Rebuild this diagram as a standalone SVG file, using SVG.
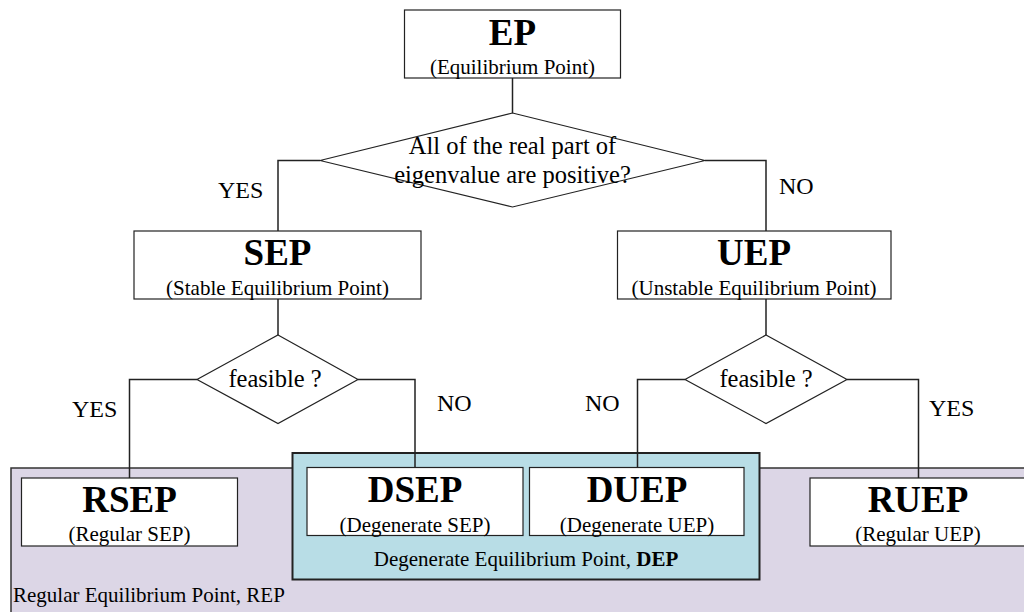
<svg xmlns="http://www.w3.org/2000/svg" width="1024" height="612" viewBox="0 0 1024 612" font-family="Liberation Serif, serif">
<style>
.box{fill:#fff;stroke:#222;stroke-width:1.2}
.dia{fill:#fff;stroke:#222;stroke-width:1.2}
.ln{fill:none;stroke:#222;stroke-width:1.5}
.ttl{font-size:37px;font-weight:bold;text-anchor:middle}
.sub{font-size:21px;text-anchor:middle}
.q{font-size:24.5px;text-anchor:middle}
.lbl{font-size:24px}
</style>
<rect width="1024" height="612" fill="#fff"/>
<g id="REP">
<rect x="11" y="468" width="1030" height="160" fill="#dcd6e6" stroke="#333" stroke-width="1.5"/>
<text font-family="Liberation Serif, serif" x="13" y="602" font-size="21">Regular Equilibrium Point, REP</text>
</g>
<g id="DEP">
<rect x="292.5" y="453" width="467" height="126.5" fill="#b8dde6" stroke="#222" stroke-width="2"/>
<text font-family="Liberation Serif, serif" x="526" y="566" font-size="21" text-anchor="middle">Degenerate Equilibrium Point, <tspan font-weight="bold">DEP</tspan></text>
</g>
<g id="connectors">
<line class="ln" x1="512.5" y1="78" x2="512.5" y2="113"/>
<polyline class="ln" points="320,160.5 278,160.5 278,231"/>
<polyline class="ln" points="705,160.5 766,160.5 766,231"/>
<line class="ln" x1="278" y1="299" x2="278" y2="335"/>
<line class="ln" x1="766" y1="299" x2="766" y2="335"/>
<polyline class="ln" points="197,379.5 129.5,379.5 129.5,478"/>
<polyline class="ln" points="358,379.5 415,379.5 415,467"/>
<polyline class="ln" points="685,379.5 637.5,379.5 637.5,467"/>
<polyline class="ln" points="847,379.5 918.5,379.5 918.5,478"/>
<text font-family="Liberation Serif, serif" class="lbl" x="218" y="198">YES</text>
<text font-family="Liberation Serif, serif" class="lbl" x="779" y="194">NO</text>
<text font-family="Liberation Serif, serif" class="lbl" x="72" y="417">YES</text>
<text font-family="Liberation Serif, serif" class="lbl" x="437" y="411">NO</text>
<text font-family="Liberation Serif, serif" class="lbl" x="585" y="411">NO</text>
<text font-family="Liberation Serif, serif" class="lbl" x="929" y="416">YES</text>
</g>
<g id="EP">
<rect class="box" x="404.5" y="10" width="216" height="68"/>
<text font-family="Liberation Serif, serif" class="ttl" x="512.5" y="45">EP</text>
<text font-family="Liberation Serif, serif" class="sub" x="512.5" y="74">(Equilibrium Point)</text>
</g>
<g id="Q1">
<polygon class="dia" points="512.5,113 705,160.5 512.5,207 320,160.5"/>
<text font-family="Liberation Serif, serif" class="q" x="512.5" y="154">All of the real part of</text>
<text font-family="Liberation Serif, serif" class="q" x="512.5" y="183">eigenvalue are positive?</text>
</g>
<g id="SEP">
<rect class="box" x="134" y="231" width="287" height="68"/>
<text font-family="Liberation Serif, serif" class="ttl" x="277.5" y="265">SEP</text>
<text font-family="Liberation Serif, serif" class="sub" x="277.5" y="295">(Stable Equilibrium Point)</text>
</g>
<g id="UEP">
<rect class="box" x="617.5" y="231" width="273.5" height="68"/>
<text font-family="Liberation Serif, serif" class="ttl" x="754" y="265">UEP</text>
<text font-family="Liberation Serif, serif" class="sub" x="754" y="295">(Unstable Equilibrium Point)</text>
</g>
<g id="Q2">
<polygon class="dia" points="278,335 358,379.5 278,423.5 197,379.5"/>
<text font-family="Liberation Serif, serif" class="q" x="275" y="387">feasible ?</text>
</g>
<g id="Q3">
<polygon class="dia" points="766,335 847,379.5 766,423.5 685,379.5"/>
<text font-family="Liberation Serif, serif" class="q" x="766" y="387">feasible ?</text>
</g>
<g id="RSEP">
<rect class="box" x="21.5" y="478" width="216" height="68"/>
<text font-family="Liberation Serif, serif" class="ttl" x="129.5" y="512">RSEP</text>
<text font-family="Liberation Serif, serif" class="sub" x="129.5" y="541">(Regular SEP)</text>
</g>
<g id="DSEP">
<rect class="box" x="307" y="467.5" width="216" height="68"/>
<text font-family="Liberation Serif, serif" class="ttl" x="415" y="502">DSEP</text>
<text font-family="Liberation Serif, serif" class="sub" x="415" y="532">(Degenerate SEP)</text>
</g>
<g id="DUEP">
<rect class="box" x="529.5" y="467.5" width="214.5" height="68"/>
<text font-family="Liberation Serif, serif" class="ttl" x="637" y="502">DUEP</text>
<text font-family="Liberation Serif, serif" class="sub" x="637" y="532">(Degenerate UEP)</text>
</g>
<g id="RUEP">
<rect class="box" x="810" y="478" width="230" height="68"/>
<text font-family="Liberation Serif, serif" class="ttl" x="918" y="512">RUEP</text>
<text font-family="Liberation Serif, serif" class="sub" x="918" y="541">(Regular UEP)</text>
</g>
</svg>
